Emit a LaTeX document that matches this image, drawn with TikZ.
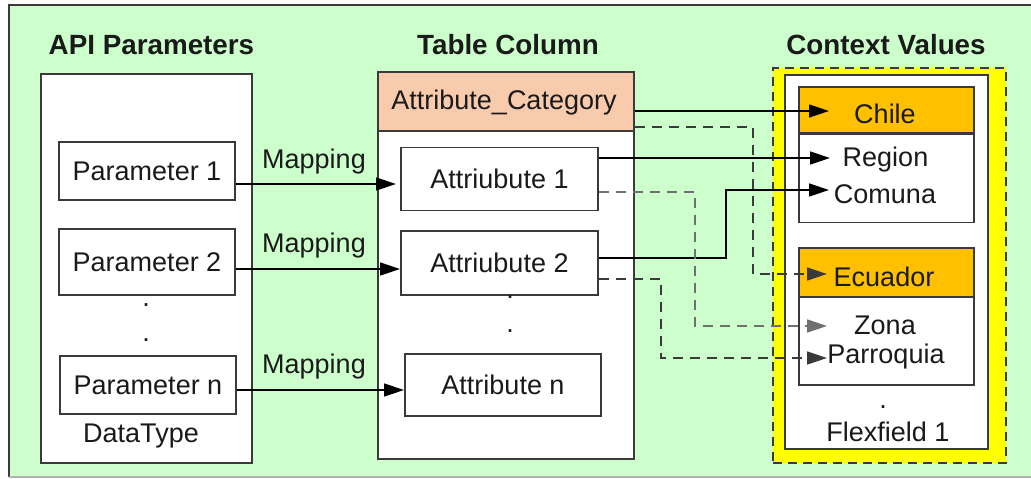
\documentclass[tikz,border=0pt]{standalone}
\usepackage{fontspec}
\setmainfont{Liberation Sans}
\usetikzlibrary{arrows.meta,calc}
\definecolor{bggreen}{HTML}{CCFFCC}
\definecolor{peach}{HTML}{F8CBAD}
\definecolor{orangehd}{HTML}{FFC000}
\definecolor{yel}{HTML}{FFFF00}
\definecolor{edge}{HTML}{3A3A3A}
\definecolor{txt}{HTML}{1A1A1A}
\definecolor{dgray}{HTML}{707070}
\begin{document}
\begin{tikzpicture}[x=1pt,y=-1pt,
  every node/.style={font=\fontsize{27}{32}\selectfont, text=txt, inner sep=0pt},
  title/.style={font=\fontsize{27.8}{32}\selectfont\bfseries},
  box/.style={draw=edge, line width=1.5pt, fill=white, rectangle},
  arr/.style={-{Triangle[length=20pt,width=13pt]}, line width=1.4pt, draw=black},
  dsh/.style={dash pattern=on 10pt off 7pt, line width=1.5pt}]
\useasboundingbox (0,0) rectangle (1031,479);
\fill[white] (0,0) rectangle (1031,479);
\fill[bggreen] (9,5) rectangle (1035,477);
\draw[edge, line width=1.5pt] (1035,5) -- (9,5) -- (9,477);
\draw[black!30, line width=1.5pt] (9,477) -- (1035,477);

% titles
\node[title] (tapi) at (151.5,45) {API Parameters};
\node[title] (ttab) at (508,45) {Table Column};
\node[title] (tctx) at (886,45) {Context Values};

% API parameters
\node[box, minimum width=211pt, minimum height=389pt] (api) at (146.5,268.5) {};
\node[box, minimum width=176pt, minimum height=58pt] (p1) at (147,171) {Parameter 1};
\node[box, minimum width=176pt, minimum height=66pt] (p2) at (147,262) {Parameter 2};
\node[box, minimum width=176pt, minimum height=58pt] (pn) at (148,385) {Parameter n};
\node (pd1) at (146,305) {.};
\node (pd2) at (146,340) {.};
\node (dtype) at (141,436) {DataType};

% Table column
\node[box, minimum width=256pt, minimum height=387pt] (tab) at (506,265.5) {};
\node[box, fill=peach, minimum width=256pt, minimum height=59pt] (cat) at (506,101.5) {};
\node (cattxt) at (504,103) {Attribute\_Category};
\node[box, minimum width=197pt, minimum height=63pt] (a1) at (499.5,179) {Attriubute 1};
\node[box, minimum width=197pt, minimum height=64pt] (a2) at (499.5,263) {Attriubute 2};
\node[box, minimum width=196pt, minimum height=62pt] (an) at (503,385) {Attribute n};
\node (ad1) at (510,297) {.};
\node (ad2) at (510,331) {.};

% Context values
\node[draw=edge, fill=yel, dash pattern=on 9pt off 6pt, line width=1.5pt, minimum width=233pt, minimum height=395pt] (ctx) at (889.5,265.5) {};
\node[box, minimum width=203pt, minimum height=374pt] (ff) at (886.5,262) {};
\node[box, minimum width=175pt, minimum height=88pt] (cbody) at (886.5,178.5) {};
\node[box, fill=orangehd, minimum width=175pt, minimum height=46pt] (chile) at (886.5,110) {};
\node (chiletxt) at (885,114) {Chile};
\node (region) at (885.5,160) {Region};
\node (comuna) at (885,194) {Comuna};
\node[box, minimum width=175pt, minimum height=88pt] (ebody) at (886.5,341) {};
\node[box, fill=orangehd, minimum width=175pt, minimum height=49pt] (ecu) at (886.5,272.5) {};
\node (ecutxt) at (884,277) {Ecuador};
\node (zona) at (885,325) {Zona};
\node (parr) at (886,357) {Parroquia};
\node (fd) at (883,407) {.};
\node (flex) at (888,432) {Flexfield 1};

% mapping labels
\node (map1) at (314,162) {Mapping};
\node (map2) at (314,246) {Mapping};
\node (map3) at (314,367) {Mapping};

% arrow tips and bends
\coordinate (m1) at (396,184);
\coordinate (m2) at (400,269);
\coordinate (m3) at (404,390);
\coordinate (tChile) at (829,111);
\coordinate (tRegion) at (830,158);
\coordinate (tComuna) at (829,190);
\coordinate (tEcu) at (827,274);
\coordinate (tZona) at (827,326);
\coordinate (tParr) at (827,358);
\coordinate (k1) at (695,0);
\coordinate (k2) at (726,0);
\coordinate (k3) at (661,0);
\coordinate (k4) at (753,0);

\draw[arr] (p1.east |- m1) -- (m1);
\draw[arr] (p2.east |- m2) -- (m2);
\draw[arr] (pn.east |- m3) -- (m3);

\draw[arr] (cat.east |- tChile) -- (tChile);
\draw[arr] (a1.east |- tRegion) -- (tRegion);
\draw[arr] ($(a2.east)+(0,-5)$) -| (k2 |- tComuna) -- (tComuna);
\draw[arr, dsh, draw=edge] ($(cat.south east)+(0,-5)$) -| (k4 |- tEcu) -- (tEcu);
\draw[arr, dsh, draw=dgray] ($(a1.east)+(0,13)$) -| (k1 |- tZona) -- (tZona);
\draw[arr, dsh, draw=edge] ($(a2.east)+(0,16)$) -| (k3 |- tParr) -- (tParr);
\end{tikzpicture}
\end{document}
